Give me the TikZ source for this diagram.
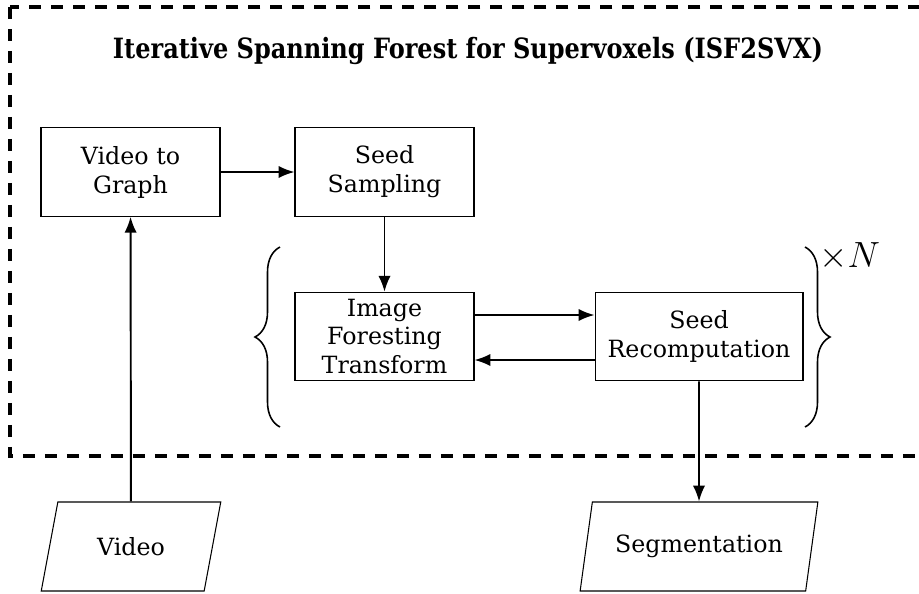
\documentclass[tikz,border=0pt]{standalone}
\usepackage{fontspec}
\usepackage{amsmath}
\setmainfont{DejaVu Serif}
\newfontfamily\titlefont{DejaVu Serif}[FakeStretch=0.86]
\usetikzlibrary{shapes.geometric,decorations.pathreplacing,arrows.meta}

\begin{document}
\begin{tikzpicture}[x=0.02cm,y=-0.02cm,
    box/.style={draw, line width=0.6pt, minimum width=3.58cm, minimum height=1.77cm,
      align=center, inner sep=2pt, font=\fontsize{13.5}{16.5}\selectfont},
    io/.style={draw, line width=0.6pt, trapezium, trapezium left angle=71.5,
      trapezium right angle=108.5, trapezium stretches=true, minimum height=1.78cm,
      inner sep=2pt, font=\fontsize{13.5}{16.5}\selectfont},
    flow/.style={-{Latex[length=9pt,width=7pt]}, line width=1.1pt},
    curly/.style={decorate, decoration={brace, amplitude=0.5cm}, line width=0.9pt},
    frame/.style={line width=2.2pt, dash pattern=on 0.24cm off 0.2cm}]
  \useasboundingbox (0,0) rectangle (919,593);

  % outer frame
  \draw[frame] (10,7) rectangle (940,456);
  \node[font=\titlefont\bfseries\fontsize{15.9}{19}\selectfont] (title) at (468,51)
    {Iterative Spanning Forest for Supervoxels (ISF2SVX)};

  \node[box] (vtg) at (130.5,172) {Video to\\Graph};
  \node[box] (ss) at (384.5,172) {Seed\\Sampling};
  \node[box] (ift) at (384.5,336.5) {Image\\Foresting\\Transform};
  \node[box, minimum width=4.16cm] (sr) at (699,336.5) {Seed\\Recomputation};

  \node[io, minimum width=3.6cm] (video) at (131,546.5) {Video};
  \node[io, minimum width=4.76cm] (seg) at (699,546.5) {Segmentation};

  \draw[flow] (video) -- (vtg);
  \draw[flow] (vtg) -- (ss);
  \draw[flow] (ss) -- (ift);
  \draw[flow] ([yshift=0.43cm]ift.east) -- ([yshift=0.43cm]sr.west);
  \draw[flow] ([yshift=-0.47cm]sr.west) -- ([yshift=-0.47cm]ift.east);
  \draw[flow] (sr) -- (seg);

  % loop braces
  \coordinate (lb1) at (280,427);
  \coordinate (lb2) at (280,247);
  \coordinate (rb1) at (805,247);
  \coordinate (rb2) at (805,427);
  \draw[curly] (lb1) -- (lb2);
  \draw[curly] (rb1) -- (rb2);
  \node[anchor=west, font=\fontsize{22}{24}\selectfont, inner sep=0pt] (times) at (819,257) {$\times N$};
\end{tikzpicture}
\end{document}
